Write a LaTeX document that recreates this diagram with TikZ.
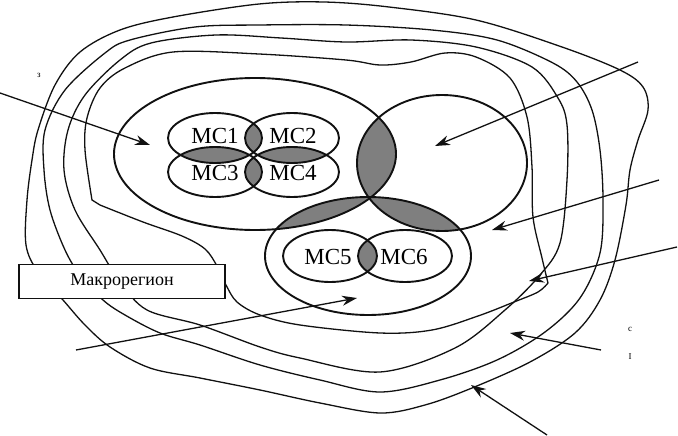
\documentclass[tikz,border=0pt]{standalone}
\usepackage{fontspec}
\setmainfont{Liberation Serif}
\usetikzlibrary{arrows.meta}
\definecolor{ink}{HTML}{111111}
\definecolor{lens}{HTML}{7F7F7F}
\newcommand{\mcfont}{\fontsize{23}{27}\selectfont}
\newcommand{\boxfont}{\fontsize{18}{22}\selectfont}
\newcommand{\scrap}{\fontsize{9}{11}\selectfont}

\begin{document}
\begin{tikzpicture}[x=1pt,y=-1pt,font=\mcfont,
  zone/.style={ink,line width=1.3pt},
  rim/.style={ink,line width=1.9pt},
  pointer/.style={ink,line width=1.3pt,-{Stealth[length=15pt,width=10pt]}}]
\useasboundingbox (0,0) rectangle (678,436);
% outer zones, from the inside out
\draw[zone] plot[smooth,tension=0.55] coordinates {(92,200) (85,150) (87,118) (100,88) (125,68) (173,52) (259,54) (346,60) (380,65) (411,62) (445,53) (476,57) (510,78) (527,117) (532,167) (533,217) (542,258) (548,283)}
  -- plot[smooth,tension=0.55] coordinates {(548,283) (538,292) (514,302) (478,316) (432,330) (380,333) (300,325) (260,315) (237,302) (226,285) (217,266) (205,249) (182,236) (143,222) (100,205)} -- cycle;
\draw[zone] plot[smooth cycle,tension=0.55] coordinates {(151,43) (216,35) (281,38) (346,42) (411,40) (476,47) (532,67) (558,98) (567,125) (567,180) (560,243) (540,275) (505,310) (455,348) (380,372) (300,358) (260,347) (200,325) (147,310) (120,282) (100,250) (75,210) (64,170) (68,130) (85,95) (120,60)};
\draw[zone] plot[smooth cycle,tension=0.55] coordinates {(130,40) (195,27) (259,25) (346,25) (432,30) (497,40) (553,63) (577,82) (592,110) (600,150) (603,200) (600,253) (580,298) (545,332) (497,360) (440,380) (380,392) (320,380) (260,365) (200,345) (160,333) (125,315) (103,300) (80,275) (65,250) (50,210) (44,170) (45,130) (65,90) (105,53)};
\draw[zone] plot[smooth cycle,tension=0.55] coordinates {(173,17) (259,4) (324,2) (389,7) (476,20) (562,47) (620,70) (643,87) (648,110) (638,140) (630,170) (626,205) (615,260) (600,300) (575,333) (530,362) (472,388) (425,405) (380,413) (320,403) (260,390) (200,378) (150,368) (110,347) (85,325) (63,300) (38,272) (26,245) (27,200) (32,160) (38,130) (55,85) (80,52) (120,30)};
% grey overlaps of the three regions
\begin{scope}
\clip (255,154) ellipse [x radius=141,y radius=76];
\fill[lens] (442,163) ellipse [x radius=85,y radius=68];
\fill[lens] (368,256) ellipse [x radius=103,y radius=59];
\end{scope}
\begin{scope}
\clip (442,163) ellipse [x radius=85,y radius=68];
\fill[lens] (368,256) ellipse [x radius=103,y radius=59];
\end{scope}
% grey overlaps of the MC cells
\begin{scope}
\clip (215,138) ellipse [x radius=47,y radius=25];
\fill[lens] (292,138) ellipse [x radius=47,y radius=25];
\fill[lens] (215,172) ellipse [x radius=47,y radius=25];
\end{scope}
\begin{scope}
\clip (292,172) ellipse [x radius=47,y radius=25];
\fill[lens] (292,138) ellipse [x radius=47,y radius=25];
\fill[lens] (215,172) ellipse [x radius=47,y radius=25];
\end{scope}
\begin{scope}
\clip (330,256) ellipse [x radius=47,y radius=26];
\fill[lens] (405,256) ellipse [x radius=47,y radius=26];
\end{scope}
% region outlines
\draw[rim] (255,154) ellipse [x radius=141,y radius=76];
\draw[rim] (442,163) ellipse [x radius=85,y radius=68];
\draw[rim] (368,256) ellipse [x radius=103,y radius=59];
\foreach \cx/\cy in {215/138,292/138,215/172,292/172}
  \draw[rim] (\cx,\cy) ellipse [x radius=47,y radius=25];
\foreach \cx/\cy in {330/256,405/256}
  \draw[rim] (\cx,\cy) ellipse [x radius=47,y radius=26];
% labels
\node[inner sep=0] (mc1) at (215,136) {MC1};
\node[inner sep=0] (mc2) at (293,136) {MC2};
\node[inner sep=0] (mc3) at (215,173) {MC3};
\node[inner sep=0] (mc4) at (293,173) {MC4};
\node[inner sep=0] (mc5) at (328,257) {MC5};
\node[inner sep=0] (mc6) at (404,257) {MC6};
\node[inner sep=0,font=\scrap] (tagz) at (39,75) {з};
\node[inner sep=0,font=\scrap] (tagc) at (630,329) {с};
\node[inner sep=0,font=\scrap] (tagn) at (630,357) {I};
% pointers
\coordinate (a1) at (0,93);     \coordinate (b1) at (150,145);
\coordinate (a2) at (638,62);   \coordinate (b2) at (435,146);
\coordinate (a3) at (659,180);  \coordinate (b3) at (492,230);
\coordinate (a4) at (677,247);  \coordinate (b4) at (529,281);
\coordinate (a5) at (601,350);  \coordinate (b5) at (510,333);
\coordinate (a6) at (547,435);  \coordinate (b6) at (471,385);
\coordinate (a7) at (76,350);   \coordinate (b7) at (357,298);
\foreach \i in {1,...,7}
  \draw[pointer] (a\i) -- (b\i);
% name plate
\node[draw=ink,fill=white,line width=1.5pt,minimum width=206pt,minimum height=34pt,font=\boxfont] (macro) at (122,281.5) {Макрорегион};
\end{tikzpicture}
\end{document}
